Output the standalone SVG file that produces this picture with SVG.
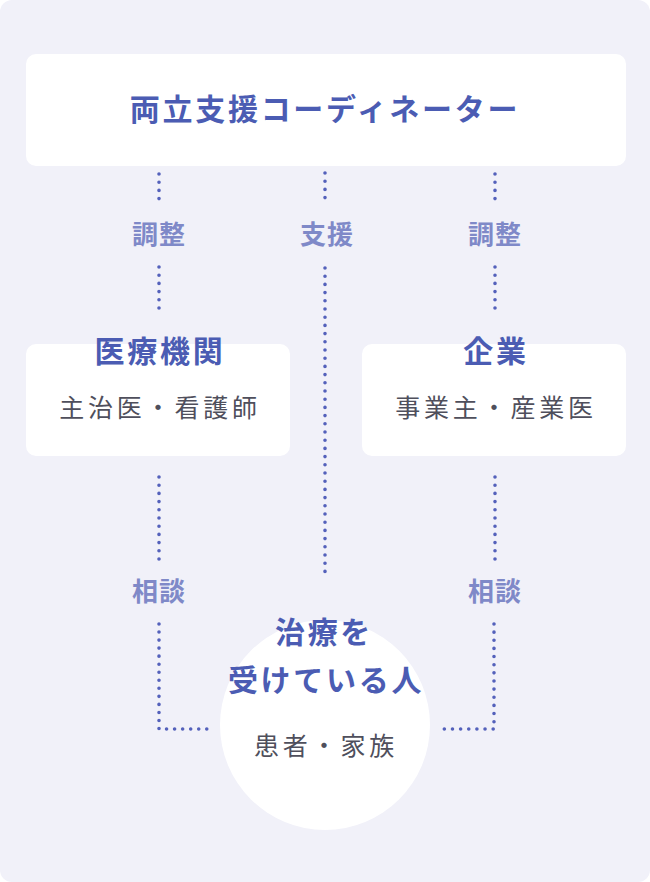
<svg xmlns="http://www.w3.org/2000/svg" width="650" height="882" viewBox="0 0 650 882">
<style>
.bg{fill:#f1f1f9}
.box{fill:#ffffff}
.h{font-family:"Noto Sans CJK JP","Noto Sans",sans-serif;font-weight:700;font-size:30px;letter-spacing:2.7px;fill:#4b5cb3;text-anchor:middle;dominant-baseline:central}
.lbl{font-family:"Noto Sans CJK JP","Noto Sans",sans-serif;font-weight:700;font-size:26px;letter-spacing:1px;fill:#7f89c8;text-anchor:middle;dominant-baseline:central}
.sub{font-family:"Noto Sans CJK JP","Noto Sans",sans-serif;font-weight:400;font-size:25px;letter-spacing:3.8px;fill:#4f4f5c;text-anchor:middle;dominant-baseline:central}
.dot{fill:none;stroke:#5461bb;stroke-width:3.6;stroke-linecap:round;stroke-dasharray:0 8.2}
</style>
<rect class="bg" x="0" y="0" width="650" height="882" rx="12"/>
<g id="connectors">
<line class="dot" x1="159" y1="174" x2="159" y2="199"/>
<line class="dot" x1="325" y1="173" x2="325" y2="198"/>
<line class="dot" x1="495" y1="174" x2="495" y2="199"/>
<line class="dot" x1="159" y1="267" x2="159" y2="308"/>
<line class="dot" x1="495" y1="267" x2="495" y2="308"/>
<line class="dot" x1="325" y1="268" x2="325" y2="574"/>
<line class="dot" x1="159" y1="477" x2="159" y2="559"/>
<line class="dot" x1="495" y1="477" x2="495" y2="559"/>
<polyline class="dot" style="stroke-dasharray:0 8.04" points="159,624 159,729 207,729"/>
<polyline class="dot" style="stroke-dasharray:0 8.14" points="494,624 494,729 444,729"/>
<text class="lbl" x="159" y="232">調整</text>
<text class="lbl" x="327" y="232">支援</text>
<text class="lbl" x="495" y="232">調整</text>
<text class="lbl" x="159" y="589">相談</text>
<text class="lbl" x="495" y="589">相談</text>
</g>
<g id="coordinator">
<rect class="box" x="26" y="54" width="600" height="112" rx="10"/>
<text class="h" x="325" y="107">両立支援コーディネーター</text>
</g>
<g id="medical">
<rect class="box" x="26" y="344" width="264" height="112" rx="10"/>
<text class="h" x="160" y="349">医療機関</text>
<text class="sub" x="160" y="406">主治医・看護師</text>
</g>
<g id="company">
<rect class="box" x="362" y="344" width="264" height="112" rx="10"/>
<text class="h" x="496" y="349">企業</text>
<text class="sub" x="496" y="406">事業主・産業医</text>
</g>
<g id="patient">
<circle class="box" cx="325" cy="725" r="105"/>
<text class="h" x="324" y="630">治療を</text>
<text class="h" x="326" y="678">受けている人</text>
<text class="sub" x="326" y="744">患者・家族</text>
</g>
</svg>
